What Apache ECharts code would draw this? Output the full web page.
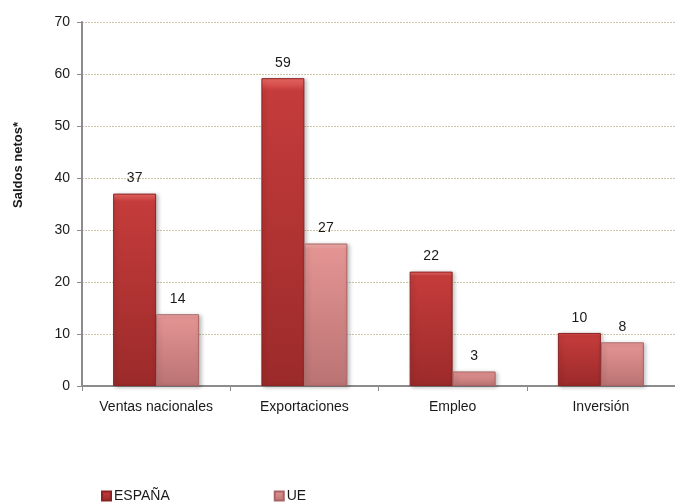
<!DOCTYPE html>
<html>
<head>
<meta charset="utf-8">
<script src="https://cdn.jsdelivr.net/npm/echarts@6/dist/echarts.min.js"></script>
<style>
  html, body { margin: 0; padding: 0; background: #fff; }
  #chart { width: 675px; height: 503px; }
</style>
</head>
<body>
<div id="chart"></div>
<script>
const categories = ['Ventas nacionales', 'Exportaciones', 'Empleo', 'Inversión'];
const espana = [37, 59.2, 22, 10.2];
const ue = [13.8, 27.4, 2.8, 8.4];
const yTicks = { min: 0, max: 70, interval: 10 };

const chart = echarts.init(document.getElementById('chart'));

function barStyle(top, mid, bottom, border) {
  return {
    color: new echarts.graphic.LinearGradient(0, 0, 0, 1, [
      { offset: 0, color: top },
      { offset: 0.04, color: mid },
      { offset: 1, color: bottom },
    ]),
    borderColor: border,
    borderWidth: 1,
    shadowColor: 'rgba(0,0,0,0.25)',
    shadowBlur: 4,
    shadowOffsetX: 2,
    shadowOffsetY: 1,
  };
}

const label = {
  show: true,
  position: 'top',
  distance: 8,
  color: '#1a1a1a',
  fontSize: 14,
  fontFamily: 'Liberation Sans',
  formatter: p => Math.round(p.value),
};

chart.setOption({
  animation: false,
  textStyle: { fontFamily: 'Liberation Sans' },
  grid: { left: 82, right: 0, top: 22, bottom: 117 },
  graphic: [{
    type: 'text',
    x: 18,
    y: 165,
    rotation: Math.PI / 2,
    style: {
      text: 'Saldos netos*',
      fontFamily: 'Liberation Sans',
      fontWeight: 'bold',
      fontSize: 13,
      fill: '#1a1a1a',
      align: 'center',
      verticalAlign: 'middle',
    },
  }],
  legend: {
    left: 96,
    top: 484,
    itemWidth: 9,
    itemHeight: 9,
    itemGap: 104,
    icon: 'rect',
    textStyle: { fontSize: 14, color: '#1a1a1a', padding: [0, 0, 0, -2] },
    data: ['ESPAÑA', 'UE'],
  },
  xAxis: {
    type: 'category',
    data: categories,
    axisLine: { lineStyle: { color: '#8c8c8c', width: 2 } },
    axisTick: { show: true, length: 5, lineStyle: { color: '#8c8c8c' } },
    axisLabel: { color: '#1a1a1a', fontSize: 14, margin: 14 },
  },
  yAxis: {
    type: 'value',
    min: yTicks.min,
    max: yTicks.max,
    interval: yTicks.interval,
    axisLine: { show: true, lineStyle: { color: '#8c8c8c', width: 2 } },
    axisTick: { show: true, length: 5, lineStyle: { color: '#8c8c8c' } },
    axisLabel: { color: '#1a1a1a', fontSize: 14, margin: 12 },
    splitLine: { lineStyle: { color: '#cfc8a8', type: [2, 1], width: 1 } },
  },
  series: [
    {
      name: 'ESPAÑA',
      type: 'bar',
      data: espana,
      barWidth: 43,
      barGap: '0%',
      itemStyle: barStyle('#ee6a66', '#c43c3b', '#9c2a2a', '#8a2222'),
      label,
    },
    {
      name: 'UE',
      type: 'bar',
      data: ue,
      barWidth: 43,
      itemStyle: barStyle('#f7b4b2', '#e39493', '#bb7373', '#a86464'),
      label,
    },
  ],
});
</script>
</body>
</html>
